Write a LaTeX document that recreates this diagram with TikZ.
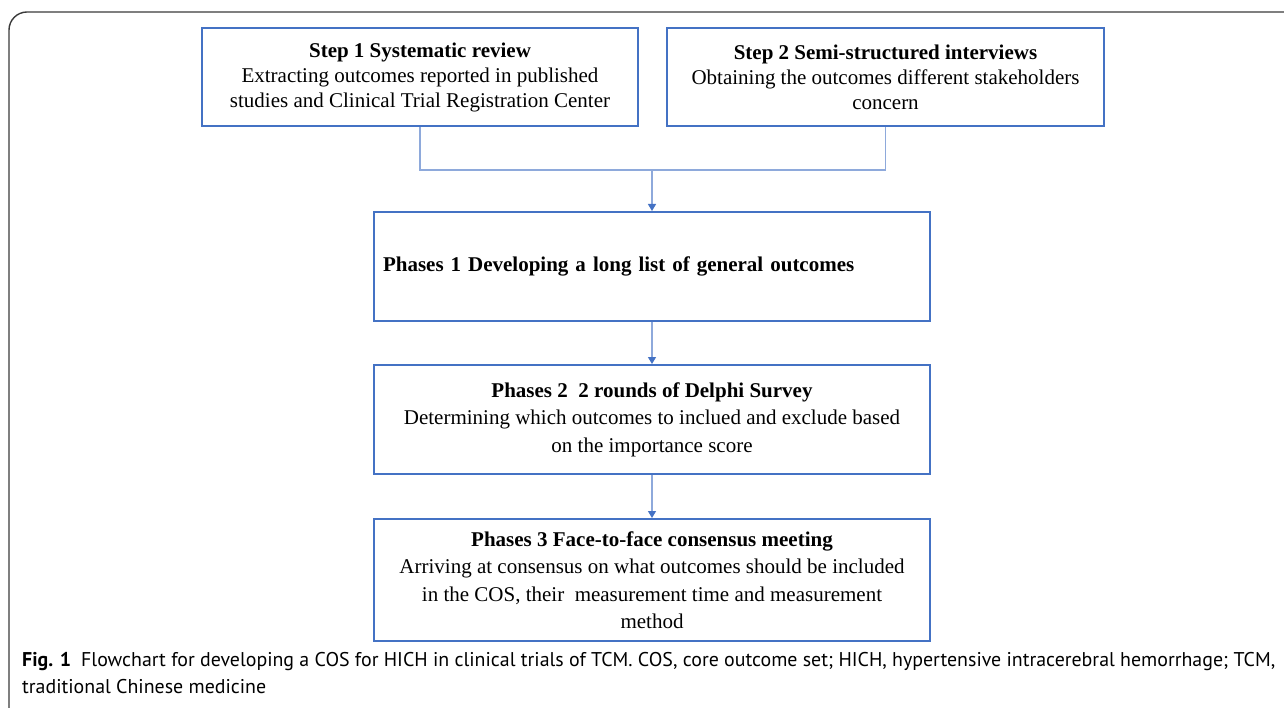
\documentclass[tikz,border=0pt]{standalone}
\usepackage{fontspec}
\setmainfont{Liberation Serif}
\newfontfamily\capfont{PT Sans}
\usetikzlibrary{arrows.meta}

\definecolor{boxblue}{HTML}{4472C4}
\definecolor{linkblue}{HTML}{8EA9DB}
\definecolor{framegray}{HTML}{3A3A3A}

\tikzset{
  stepbox/.style={draw=boxblue, line width=2pt, fill=white, align=center, inner sep=4pt,
    font=\fontsize{21}{25}\selectfont},
  phasebox/.style={stepbox, minimum width=556pt, font=\fontsize{21}{27.5}\selectfont},
  link/.style={draw=linkblue, line width=1.2pt},
  linkarrow/.style={link, -{Triangle[length=7pt,width=8pt,color=boxblue]}},
}

\begin{document}
\begin{tikzpicture}[x=1pt,y=-1pt]
    \useasboundingbox (0,0) rectangle (1284,708);

    % Outer frame
    \draw[framegray, line width=1.4pt, rounded corners=18pt] (1300,12) -- (9,12) -- (9,720);

    % Steps
    \node[stepbox, minimum width=436pt, minimum height=98pt] (step1) at (420,77)
        {\textbf{Step 1 Systematic review}\\Extracting outcomes reported in published\\studies and Clinical Trial Registration Center};
    \node[stepbox, minimum width=437pt, minimum height=98pt] (step2) at (885.5,77)
        {\textbf{Step 2 Semi-structured interviews}\\Obtaining the outcomes different stakeholders\\concern};

    % Phases
    \node[phasebox, minimum height=109pt, align=left, text width=538pt, inner xsep=9pt] (ph1) at (652,266.5)
        {\textbf{Phases 1 Developing a long list of general outcomes}};
    \node[phasebox, minimum height=109pt] (ph2) at (652,419.5)
        {\textbf{Phases 2 \ 2 rounds of Delphi Survey}\\Determining which outcomes to inclued and exclude based\\on the importance score};
    \node[phasebox, minimum height=122pt] (ph3) at (652,580)
        {\textbf{Phases 3 Face-to-face consensus meeting}\\Arriving at consensus on what outcomes should be included\\in the COS, their \ measurement time and measurement\\method};

    % Connectors
    \coordinate (split) at (652,170);
    \draw[link] (step1.south) |- (split);
    \draw[link] (step2.south) |- (split);
    \draw[linkarrow] (split) -- (ph1.north);
    \draw[linkarrow] (ph1) -- (ph2);
    \draw[linkarrow] (ph2) -- (ph3);

    % Caption
    \node[anchor=north west, align=left, inner sep=0pt, font=\capfont\fontsize{19.9}{27}\selectfont] (caption) at (22,652)
        {\textbf{Fig. 1}\enspace Flowchart for developing a COS for HICH in clinical trials of TCM. COS, core outcome set; HICH, hypertensive intracerebral hemorrhage; TCM,\\traditional Chinese medicine};
\end{tikzpicture}
\end{document}
